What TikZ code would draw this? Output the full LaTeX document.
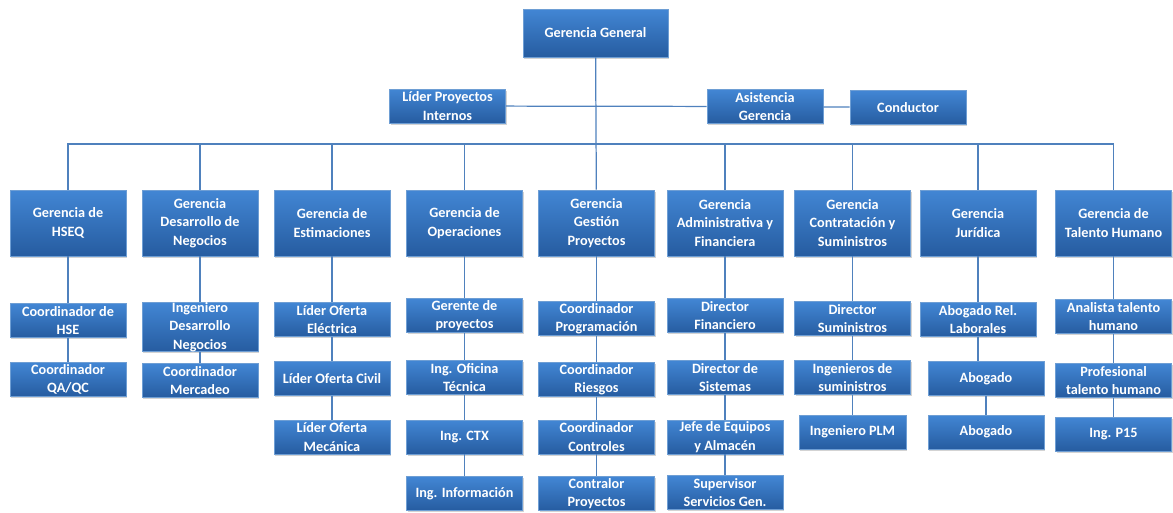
\documentclass[tikz,border=0pt]{standalone}
\usepackage{fontspec}
\setmainfont{Carlito}
\usetikzlibrary{positioning,shadows}

\definecolor{boxtop}{RGB}{66,134,212}
\definecolor{boxbot}{RGB}{38,92,160}
\definecolor{boxline}{RGB}{110,158,212}
\definecolor{linkblue}{RGB}{79,129,189}

\begin{document}
\begin{tikzpicture}[x=0.02cm, y=-0.02cm,
  box/.style={draw=boxline, top color=boxtop, bottom color=boxbot, text=white,
    font=\fontsize{8.1}{10.4}\selectfont\bfseries, align=center, inner xsep=2pt, inner ysep=0pt,
    minimum width=2.32cm, minimum height=0.68cm,
    drop shadow={opacity=0.35, shadow xshift=0.6pt, shadow yshift=-0.9pt}},
  head/.style={box, minimum height=1.32cm},
  link/.style={draw=linkblue, line width=0.7pt}
]
\useasboundingbox (0,0) rectangle (1173,512);

% top
\node[box, minimum width=2.9cm, minimum height=0.96cm] (gg) at (595.5,33) {Gerencia General};
\node[box] (lid) at (447.5,106) {Líder Proyectos\\Internos};
\node[box] (asi) at (765,106.5) {Asistencia\\Gerencia};
\node[box] (cond) at (908,107.5) {Conductor};
\coordinate (bus) at (0,144);

% gerencias
\node[head] (hseq) at (68,223) {Gerencia de\\HSEQ};
\node[head] (neg) at (200,223) {Gerencia\\Desarrollo de\\Negocios};
\node[head] (est) at (332,223) {Gerencia de\\Estimaciones};
\node[head] (ope) at (464.5,223) {Gerencia de\\Operaciones};
\node[head] (ges) at (596.5,223) {Gerencia\\Gestión\\Proyectos};
\node[head] (adm) at (725,223) {Gerencia\\Administrativa y\\Financiera};
\node[head] (con) at (852.5,223) {Gerencia\\Contratación y\\Suministros};
\node[head] (jur) at (978,223) {Gerencia\\Jurídica};
\node[head] (tal) at (1113.5,223) {Gerencia de\\Talento Humano};

% HSEQ
\node[box, below=0.94cm of hseq] (hse) {Coordinador de\\HSE};
\node[box, below=0.48cm of hse] (qa) {Coordinador\\QA/QC};
% negocios
\node[box, below=0.92cm of neg, minimum height=0.98cm, inner ysep=-1.5pt] (ing) {Ingeniero\\Desarrollo\\Negocios};
\node[box, below=0.22cm of ing] (mer) {Coordinador\\Mercadeo};
% estimaciones
\node[box, below=0.92cm of est] (ele) {Líder Oferta\\Eléctrica};
\node[box, below=0.48cm of ele] (civ) {Líder Oferta Civil};
\node[box, below=0.48cm of civ] (mec) {Líder Oferta\\Mecánica};
% operaciones
\node[box, below=0.84cm of ope] (gpr) {Gerente de\\proyectos};
\node[box, below=0.54cm of gpr] (ofi) {Ing. Oficina\\Técnica};
\node[box, below=0.5cm of ofi] (ctx) {Ing. CTX};
\node[box, below=0.44cm of ctx] (inf) {Ing. Información};
% gestion proyectos
\node[box, below=0.9cm of ges] (prg) {Coordinador\\Programación};
\node[box, below=0.52cm of prg] (rie) {Coordinador\\Riesgos};
\node[box, below=0.46cm of rie] (ctl) {Coordinador\\Controles};
\node[box, below=0.44cm of ctl] (cop) {Contralor\\Proyectos};
% administrativa
\node[box, below=0.84cm of adm] (fin) {Director\\Financiero};
\node[box, below=0.54cm of fin] (sis) {Director de\\Sistemas};
\node[box, below=0.5cm of sis] (jef) {Jefe de Equipos\\y Almacén};
\node[box, below=0.42cm of jef] (sup) {Supervisor\\Servicios Gen.};
% contratacion
\node[box, below=0.9cm of con] (dsu) {Director\\Suministros};
\node[box, below=0.48cm of dsu] (isu) {Ingenieros de\\suministros};
\node[box, below=0.4cm of isu, minimum width=2.14cm] (plm) {Ingeniero PLM};
% juridica
\node[box, below=0.92cm of jur] (rel) {Abogado Rel.\\Laborales};
\node[box, below=0.48cm of rel, xshift=0.16cm] (abo) {Abogado};
\node[box, below=0.38cm of abo] (abt) {Abogado};
% talento humano
\node[box, below=0.86cm of tal] (ana) {Analista talento\\humano};
\node[box, below=0.58cm of ana] (prf) {Profesional\\talento humano};
\node[box, below=0.38cm of prf] (p15) {Ing. P15};

% lines
\draw[link] (gg) -- (ges);
\draw[link] (lid) -- (asi);
\draw[link] (asi) -- (cond);
\draw[link] (hseq) -- (hseq |- bus) -- (tal |- bus) -- (tal);
\foreach \n in {neg,est,ope,adm,con,jur}
  \draw[link] (\n) -- (\n |- bus);
\foreach \a/\b in {hseq/hse, hse/qa, neg/ing, ing/mer, est/ele, ele/civ, civ/mec,
    ope/gpr, gpr/ofi, ofi/ctx, ctx/inf, ges/prg, prg/rie, rie/ctl, ctl/cop,
    adm/fin, fin/sis, sis/jef, jef/sup, con/dsu, dsu/isu, isu/plm,
    jur/rel, rel/abo, abo/abt, tal/ana, ana/prf, prf/p15}
  \draw[link] (\a) -- (\a |- \b.north);
\end{tikzpicture}
\end{document}
